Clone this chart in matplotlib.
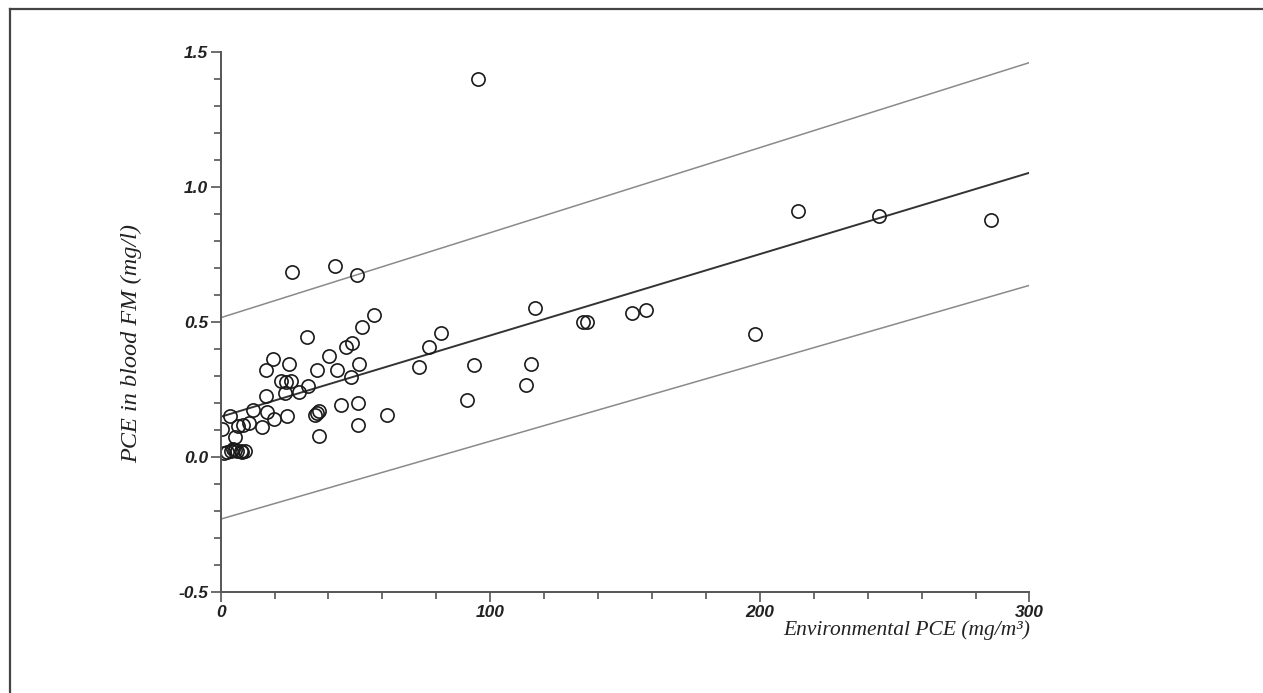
import matplotlib
matplotlib.use("Agg")
import matplotlib.pyplot as plt
from matplotlib.lines import Line2D
from matplotlib.ticker import MultipleLocator, FormatStrFormatter

# measured points: environmental PCE (mg/m3) vs PCE in blood (mg/l)
env_pce = [95.4, 26.3, 42.6, 50.5, 214.1, 244.2, 285.7, 198.1, 116.5, 134.4,
           135.9, 152.5, 157.7, 81.9, 77.1, 73.4, 93.8, 115.2, 113.4, 91.3,
           56.9, 52.6, 32.2, 48.8, 46.4, 40.2, 51.5, 35.9, 43.0, 48.3,
           32.4, 29.1, 35.0, 35.6, 36.3, 44.6, 50.8, 61.6, 50.8, 36.5,
           19.5, 17.0, 25.5, 22.3, 24.3, 26.0, 23.7, 17.0, 17.2, 11.9,
           3.5, 24.5, 19.8, 15.2, 10.5, 8.4, 6.3, 0.4, 5.5,
           1.2, 2.5, 3.8, 4.5, 5.3, 6.2, 7.4, 8.0, 9.0]
blood_pce = [1.40, 0.685, 0.707, 0.675, 0.914, 0.895, 0.879, 0.455, 0.554, 0.501,
             0.501, 0.533, 0.547, 0.462, 0.409, 0.334, 0.341, 0.347, 0.266, 0.214,
             0.528, 0.482, 0.445, 0.424, 0.410, 0.374, 0.347, 0.322, 0.324, 0.296,
             0.263, 0.241, 0.156, 0.165, 0.171, 0.193, 0.203, 0.156, 0.120, 0.078,
             0.364, 0.322, 0.344, 0.281, 0.279, 0.283, 0.239, 0.227, 0.167, 0.176,
             0.154, 0.153, 0.143, 0.111, 0.126, 0.119, 0.115, 0.105, 0.075,
             0.015, 0.018, 0.025, 0.030, 0.027, 0.023, 0.023, 0.020, 0.023]

# regression line and prediction band ends
line_x = [0, 300]
fit_y = [0.150, 1.054]
upper_y = [0.517, 1.462]
lower_y = [-0.229, 0.637]

fig = plt.figure(figsize=(12.63, 6.93), dpi=100)
ax = fig.add_axes([0.1747, 0.1453, 0.6404, 0.7792])

ax.plot(line_x, upper_y, color="#8a8a8a", lw=1.1)
ax.plot(line_x, lower_y, color="#8a8a8a", lw=1.1)
ax.plot(line_x, fit_y, color="#333333", lw=1.4)
ax.plot(env_pce, blood_pce, linestyle="none", marker="o", markersize=9.5,
        markerfacecolor="none", markeredgecolor="#1a1a1a", markeredgewidth=1.2)

ax.set_xlim(0, 300)
ax.set_ylim(-0.5, 1.5)
for s in ["top", "right"]:
    ax.spines[s].set_visible(False)
for s in ["left", "bottom"]:
    ax.spines[s].set_color("#555555")
    ax.spines[s].set_linewidth(1.4)

ax.xaxis.set_major_locator(MultipleLocator(100))
ax.xaxis.set_minor_locator(MultipleLocator(20))
ax.yaxis.set_major_locator(MultipleLocator(0.5))
ax.yaxis.set_minor_locator(MultipleLocator(0.1))
ax.xaxis.set_major_formatter(FormatStrFormatter("%d"))
ax.yaxis.set_major_formatter(FormatStrFormatter("%.1f"))
ax.tick_params(which="major", direction="out", length=7, width=1.2, color="#555555")
ax.tick_params(which="minor", direction="out", length=5, width=1.2, color="#555555")
ax.tick_params(axis="both", labelsize=12.5, labelcolor="#222222", pad=2)
for lab in ax.get_xticklabels() + ax.get_yticklabels():
    lab.set_fontfamily("Liberation Sans")
    lab.set_fontstyle("italic")
    lab.set_fontweight("bold")

fig.text(0.104, 0.505, "PCE in blood FM (mg/l)", rotation=90, ha="center", va="center",
         family="Liberation Serif", style="italic", fontsize=17.5, color="#222222")
fig.text(0.8155, 0.090, "Environmental PCE (mg/m³)", ha="right", va="center",
         family="Liberation Serif", style="italic", fontsize=15.5, color="#222222")

# outer frame (top and left edges only)
fig.add_artist(Line2D([10 / 1263, 1.0], [1 - 9 / 693, 1 - 9 / 693], transform=fig.transFigure,
                      color="#444444", lw=1.6))
fig.add_artist(Line2D([10 / 1263, 10 / 1263], [0.0, 1 - 9 / 693], transform=fig.transFigure,
                      color="#444444", lw=1.6))

fig.savefig("out.png", dpi=100)
